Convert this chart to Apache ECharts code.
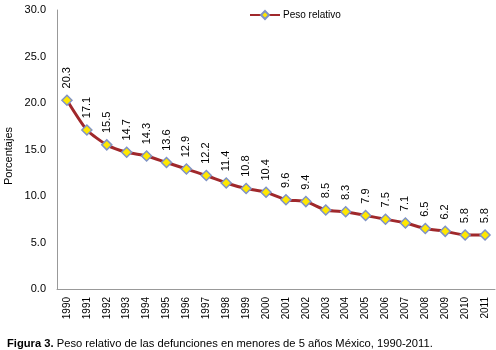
<!DOCTYPE html>
<html><head><meta charset="utf-8">
<script src="https://cdn.jsdelivr.net/npm/echarts@6/dist/echarts.min.js"></script>
<style>html,body{margin:0;padding:0;background:#fff}#c{width:496px;height:350px}</style>
</head><body><div id="c"></div>
<script>
const years = ['1990','1991','1992','1993','1994','1995','1996','1997','1998','1999','2000','2001','2002','2003','2004','2005','2006','2007','2008','2009','2010','2011'];
const pesoRelativo = [20.3,17.1,15.5,14.7,14.3,13.6,12.9,12.2,11.4,10.8,10.4,9.6,9.4,8.5,8.3,7.9,7.5,7.1,6.5,6.2,5.8,5.8];
const seriesName = 'Peso relativo';
const yTitle = 'Porcentajes';
const captionBold = 'Figura 3.';
const captionText = ' Peso relativo de las defunciones en menores de 5 años México, 1990-2011.';

const chart = echarts.init(document.getElementById('c'));
const font = 'Liberation Sans, Arial, sans-serif';
chart.setOption({
  animation: false,
  textStyle: {fontFamily: font},
  title: {
    left: 2, top: 333,
    text: '{b|' + captionBold + '}' + captionText,
    textStyle: {fontSize: 11.2, fontWeight: 'normal', color: '#000', fontFamily: font,
      rich: {b: {fontWeight: 'bold', fontSize: 11.2, color: '#000', fontFamily: font}}}
  },
  legend: {
    top: 5, left: 244,
    itemWidth: 30, itemHeight: 10, itemGap: 4,
    textStyle: {fontSize: 10, color: '#000', fontFamily: font, padding: [0,0,0,-2]},
    data: [seriesName]
  },
  graphic: [{
    type: 'text', x: 9, y: 156, rotation: Math.PI / 2,
    style: {text: yTitle, font: '11px ' + font, fill: '#000', align: 'center', verticalAlign: 'middle'}
  }],
  grid: {left: 57, right: 1, top: 10, bottom: 61},
  xAxis: {
    type: 'category', data: years, boundaryGap: true,
    axisLine: {lineStyle: {color: '#999', width: 1}},
    axisTick: {show: false},
    axisLabel: {rotate: 90, fontSize: 10, color: '#000', margin: 8, interval: 0, fontFamily: font}
  },
  yAxis: {
    type: 'value', min: 0, max: 30, interval: 5,
    axisLine: {show: true, lineStyle: {color: '#999'}},
    axisTick: {show: false},
    splitLine: {show: false},
    axisLabel: {formatter: v => v.toFixed(1), fontSize: 11, color: '#000', margin: 11, fontFamily: font}
  },
  series: [{
    name: seriesName, type: 'line', data: pesoRelativo,
    symbol: 'diamond', symbolSize: 10, smooth: 0.2,
    lineStyle: {color: '#A0282B', width: 3},
    itemStyle: {color: '#FFE800', borderColor: '#7F93C6', borderWidth: 1.5},
    label: {
      show: true, position: 'top', rotate: 90, align: 'left', verticalAlign: 'middle',
      distance: 6, fontSize: 11, color: '#000', fontFamily: font,
      formatter: p => p.value.toFixed(1)
    }
  }]
});
</script></body></html>
